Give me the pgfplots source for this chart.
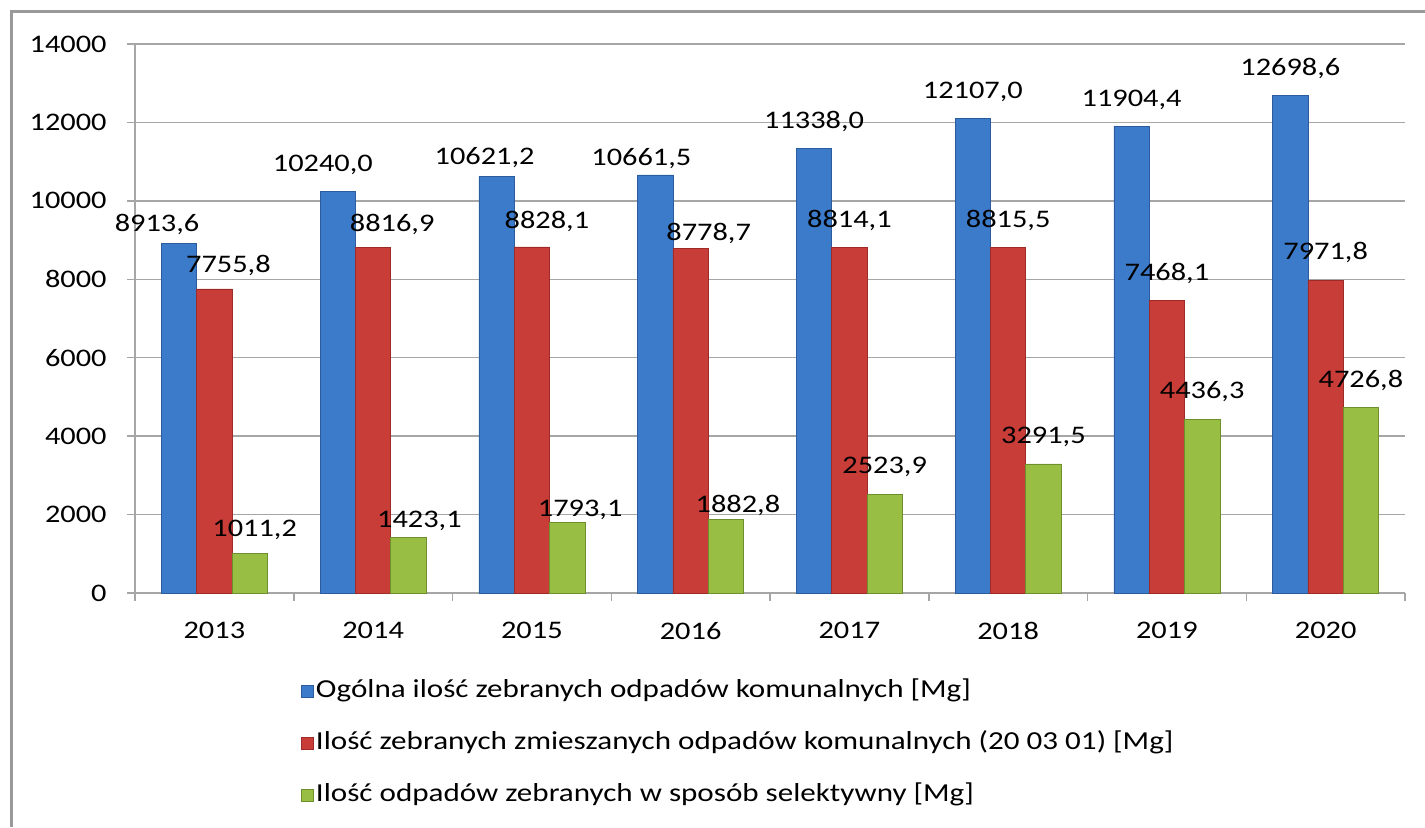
\documentclass[border=0pt]{standalone}
\usepackage{fontspec}
\setmainfont{Carlito}[FakeStretch=1.2]
\usepackage{pgfplots}
\usepackage{pgfplotstable}
\pgfplotsset{compat=1.18}
\pgfplotsset{/pgf/number format/1000 sep={}, /pgf/number format/assume math mode=true}

\definecolor{gridgray}{HTML}{A6A6A6}
\definecolor{framegray}{HTML}{999999}
\definecolor{bluebar}{HTML}{3C7BC9}
\definecolor{bluedark}{HTML}{2B5C9E}
\definecolor{redbar}{HTML}{C93D38}
\definecolor{reddark}{HTML}{9E2B27}
\definecolor{greenbar}{HTML}{98BF44}
\definecolor{greendark}{HTML}{6F8F2C}

\pgfplotstableread{
x y dx dy
0 8913.6 -11 5.75
1 10240.0 -7.5 9.75
2 10621.2 -6 6.25
3 10661.5 -7 4.75
4 11338.0 0 9.75
5 12107.0 0 9.75
6 11904.4 0 9.75
7 12698.6 0 9.75
}\tblue

\pgfplotstableread{
x y dx dy
0 7755.8 7 8.25
1 8816.9 9.5 7.75
2 8828.1 7.5 9.25
3 8778.7 9 4.25
4 8814.1 0 9.75
5 8815.5 0 9.75
6 7468.1 0 9.75
7 7971.8 0 10.25
}\tred

\pgfplotstableread{
x y dx dy
0 1011.2 2.5 8.25
1 1423.1 5.5 4.75
2 1793.1 6.5 3.25
3 1882.8 6 3.25
4 2523.9 0 10.25
5 3291.5 0 10.25
6 4436.3 0 10.25
7 4726.8 0 10.25
}\tgreen

\begin{document}
\fontsize{12.65pt}{15pt}\selectfont
\begin{tikzpicture}
\useasboundingbox (0,0) rectangle (712.5pt,413.5pt);
\draw[framegray, line width=1.5pt] (5.5pt,0pt) -- (5.5pt,407.5pt) -- (712.5pt,407.5pt);
\begin{axis}[
  at={(67.5pt,117pt)}, anchor=south west,
  scale only axis, width=635pt, height=274.5pt,
  xmin=-0.5, xmax=7.5, ymin=0, ymax=14000,
  ytick={0,2000,...,14000},
  scaled y ticks=false,
  yticklabel={\pgfmathprintnumber[fixed,precision=0,1000 sep={}]{\tick}},
  ymajorgrids, grid style={gridgray, line width=0.75pt},
  xtick={-0.5,0.5,...,7.5},
  x tick label as interval,
  xticklabels={2013,2014,2015,2016,2017,2018,2019,2020},
  tick align=outside, major tick length=4pt,
  tick style={gridgray, line width=0.75pt},
  axis x line*=bottom, axis y line*=left,
  axis line style={gridgray, line width=0.75pt},
  yticklabel style={anchor=east, inner sep=0pt, xshift=-10pt},
  xticklabel style={anchor=north, inner sep=0pt, yshift=-10.5pt},
  ybar=0pt, bar width=17.65pt,
  point meta=y,
  visualization depends on={\thisrow{dx} \as \mydx},
  visualization depends on={\thisrow{dy} \as \mydy},
  nodes near coords={\pgfmathprintnumber[fixed,fixed zerofill,precision=1,use comma,1000 sep={}]{\pgfplotspointmeta}},
  every node near coord/.append style={anchor=base, inner sep=0pt, xshift=\mydx pt, yshift=\mydy pt, text=black},
  legend image code/.code={\fill[#1] (0pt,-3pt) rectangle (6pt,3pt);},
  legend style={at={(axis description cs:0.1307,-0.1566)}, anchor=north west, draw=none, fill=none,
    inner sep=0pt, row sep=14pt, cells={anchor=west},
    font=\fontsize{12.95pt}{16pt}\selectfont,
    nodes={inner sep=0pt, text height=9pt, text depth=3pt},
    /tikz/every odd column/.append style={column sep=1pt}},
  legend cell align=left,
]
\addplot[draw=bluedark, line width=0.3pt, fill=bluebar] table[x=x,y=y] {\tblue};
\addplot[draw=reddark, line width=0.3pt, fill=redbar] table[x=x,y=y] {\tred};
\addplot[draw=greendark, line width=0.3pt, fill=greenbar] table[x=x,y=y] {\tgreen};
\legend{Ogólna ilość zebranych odpadów komunalnych [Mg],
Ilość zebranych zmieszanych odpadów komunalnych (20 03 01) [Mg],
Ilość odpadów zebranych w sposób selektywny [Mg]}
\end{axis}
\end{tikzpicture}
\end{document}
